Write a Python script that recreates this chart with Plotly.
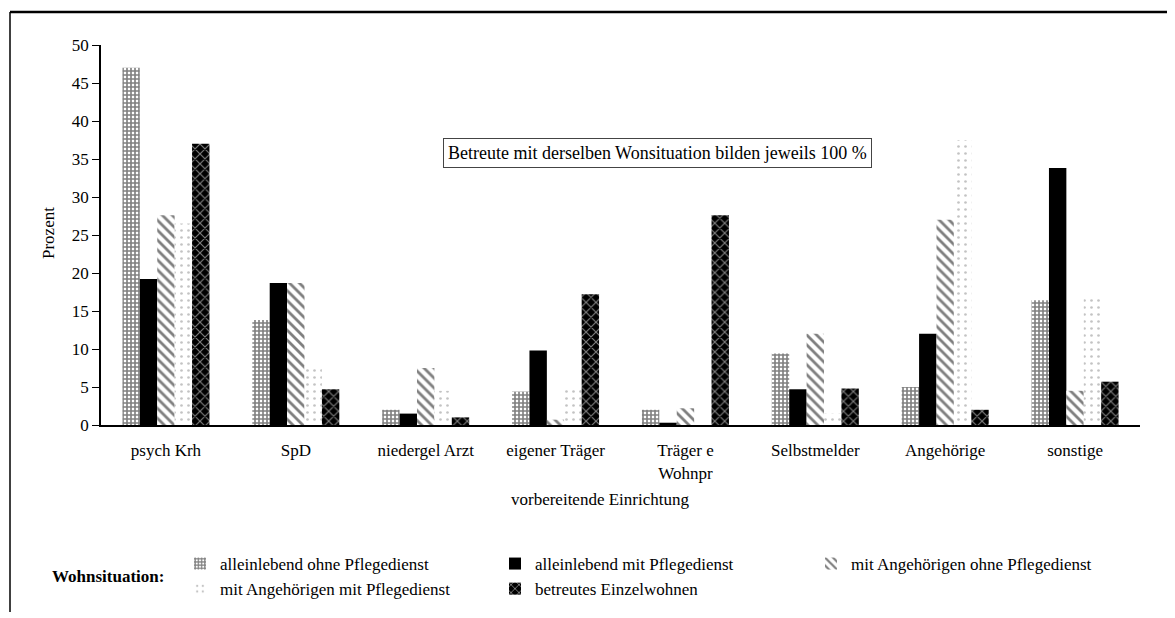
import plotly.graph_objects as go

# vorbereitende Einrichtung (x categories)
categories = ["psych Krh", "SpD", "niedergel Arzt", "eigener Träger",
              "Träger e<br>Wohnpr", "Selbstmelder", "Angehörige", "sonstige"]

# Wohnsituation series (percent, each series sums to ~100)
allein_ohne = [47.0, 13.8, 2.0, 4.4, 2.0, 9.4, 5.0, 16.4]
allein_mit = [19.2, 18.7, 1.5, 9.8, 0.3, 4.7, 12.0, 33.8]
angeh_ohne = [27.6, 18.7, 7.5, 0.7, 2.2, 12.0, 27.0, 4.5]
angeh_mit = [26.5, 7.8, 4.5, 5.0, 0.0, 1.5, 37.5, 17.0]
einzelwohnen = [37.0, 4.7, 1.0, 17.2, 27.6, 4.8, 2.0, 5.7]

series_names = ["alleinlebend ohne Pflegedienst", "alleinlebend mit Pflegedienst",
                "mit Angehörigen ohne Pflegedienst", "mit Angehörigen mit Pflegedienst",
                "betreutes Einzelwohnen"]

y_ticks = [0, 5, 10, 15, 20, 25, 30, 35, 40, 45, 50]

FONT = "Liberation Serif, Times New Roman, serif"
FS = 17

# the page body adds an 8px offset, so the figure is a little smaller
OFF = 8
W, H = 1175 - OFF, 618 - OFF
L, R, T, B = 93, 35, 37, 193
pw, ph = W - L - R, H - T - B


# helpers: screen pixel -> paper coords
def px(x):
    return (x - OFF - L) / pw


def py(y):
    return (H - B - (y - OFF)) / ph


styles = [
    dict(color="white", pattern=dict(shape="+", fgcolor="black", bgcolor="white",
                                     size=4, solidity=0.65), legend="legend"),
    dict(color="black", pattern=None, legend="legend2"),
    dict(color="white", pattern=dict(shape="\\", fgcolor="black", bgcolor="white",
                                     size=7, solidity=0.4), legend="legend3"),
    dict(color="white", pattern=dict(shape=".", fgcolor="#888888", bgcolor="white",
                                     size=7, solidity=0.12), legend="legend"),
    dict(color="black", pattern=dict(shape="x", fgcolor="white", bgcolor="black",
                                     size=7, solidity=0.3), legend="legend2"),
]

data = [allein_ohne, allein_mit, angeh_ohne, angeh_mit, einzelwohnen]

fig = go.Figure()
for name, vals, st in zip(series_names, data, styles):
    marker = dict(color=st["color"], line=dict(width=0))
    if st["pattern"]:
        marker["pattern"] = st["pattern"]
    fig.add_trace(go.Bar(x=categories, y=vals, name=name, marker=marker,
                         legend=st["legend"]))

legend_common = dict(font=dict(family=FONT, size=FS, color="black"),
                     bgcolor="rgba(0,0,0,0)", orientation="v", tracegroupgap=0,
                     itemwidth=30, xanchor="left", yanchor="top")

fig.update_layout(
    width=W, height=H,
    margin=dict(l=L, r=R, t=T, b=B, autoexpand=False),
    paper_bgcolor="white", plot_bgcolor="white",
    barmode="group", bargap=0.33, bargroupgap=0,
    font=dict(family=FONT, size=FS, color="black"),
    showlegend=True,
    legend=dict(x=px(180), y=py(546), **legend_common),
    legend2=dict(x=px(495), y=py(546), **legend_common),
    legend3=dict(x=px(811), y=py(546), **legend_common),
    xaxis=dict(showline=True, linecolor="black", linewidth=2, ticks="",
               ticklabelstandoff=9,
               tickfont=dict(family=FONT, size=FS), showgrid=False),
    yaxis=dict(range=[0, 50], tickvals=y_ticks, showline=True, linecolor="black",
               linewidth=1.5, ticks="outside", ticklen=7, tickcolor="black",
               showgrid=False, zeroline=False, tickfont=dict(family=FONT, size=FS)),
)

fig.add_annotation(x=px(48), y=py(233), xref="paper", yref="paper",
                   text="Prozent", textangle=-90, showarrow=False,
                   xanchor="center", yanchor="middle",
                   font=dict(family=FONT, size=FS))
fig.add_annotation(x=px(600), y=py(499), xref="paper", yref="paper",
                   text="vorbereitende Einrichtung", showarrow=False,
                   xanchor="center", yanchor="middle",
                   font=dict(family=FONT, size=FS))
fig.add_annotation(x=px(50), y=py(576), xref="paper", yref="paper",
                   text="<b>Wohnsituation:</b>", showarrow=False,
                   xanchor="left", yanchor="middle",
                   font=dict(family=FONT, size=FS))
fig.add_annotation(x=px(657), y=py(153), xref="paper", yref="paper",
                   text="Betreute mit derselben Wonsituation bilden jeweils 100 %",
                   showarrow=False, xanchor="center", yanchor="middle",
                   font=dict(family=FONT, size=18),
                   bordercolor="#444444", borderwidth=1, borderpad=4, bgcolor="white")

# outer frame
fig.add_shape(type="line", xref="paper", yref="paper", x0=px(10), x1=px(1168),
              y0=py(12), y1=py(12), line=dict(color="black", width=2.5))
fig.add_shape(type="line", xref="paper", yref="paper", x0=px(10), x1=px(10),
              y0=py(12), y1=py(612), line=dict(color="black", width=1.5))
fig.add_shape(type="line", xref="paper", yref="paper", x0=px(1168), x1=px(1168),
              y0=py(12), y1=py(612), line=dict(color="black", width=1.5))

fig.write_html("out.html")
